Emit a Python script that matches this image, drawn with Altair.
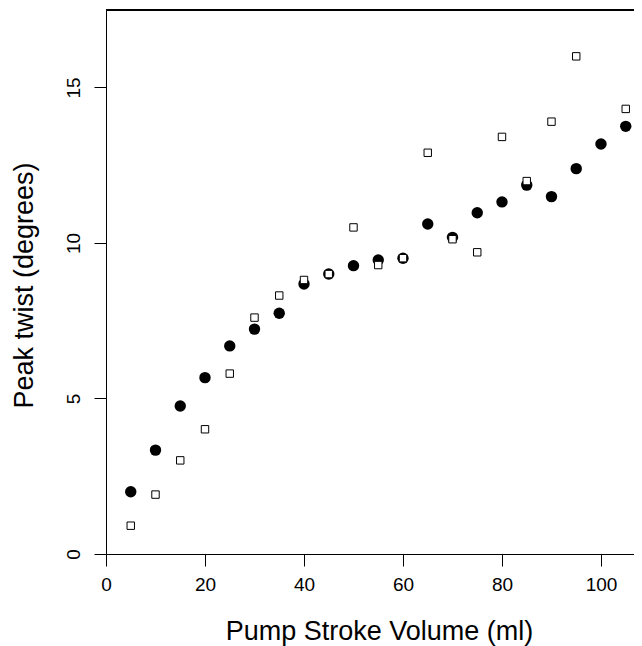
import altair as alt
import pandas as pd

volume = [5, 10, 15, 20, 25, 30, 35, 40, 45, 50, 55, 60, 65, 70, 75, 80, 85, 90, 95, 100, 105]
twist_filled = [2.00, 3.34, 4.76, 5.67, 6.69, 7.23, 7.74, 8.68, 9.00, 9.27, 9.45,
                9.51, 10.61, 10.18, 10.97, 11.32, 11.86, 11.49, 12.39, 13.18, 13.75]
twist_open = [0.91, 1.91, 3.01, 4.01, 5.80, 7.60, 8.31, 8.81, 9.00, 10.50, 9.29,
              9.51, 12.90, 10.12, 9.70, 13.41, 11.99, 13.90, 16.00, None, 14.31]
x_ticks = [0, 20, 40, 60, 80, 100]
y_ticks = [0, 5, 10, 15]

df_filled = pd.DataFrame({"volume": volume, "twist": twist_filled})
df_open = pd.DataFrame({"volume": volume, "twist": twist_open}).dropna()

W, H = 528, 544
FONT = "Liberation Sans"

xenc = alt.X("volume:Q",
             scale=alt.Scale(domain=[0, 106.67], nice=False, zero=False),
             axis=alt.Axis(values=x_ticks, title="Pump Stroke Volume (ml)",
                           tickSize=12, tickColor="black", domainColor="black",
                           labelPadding=24, labelBaseline="alphabetic", labelFlush=False,
                           labelFontSize=19, labelFont=FONT, labelColor="black",
                           titleFontSize=27, titleFont=FONT, titleColor="black",
                           titleFontWeight="normal", titleBaseline="alphabetic",
                           titleX=273, titleY=85, titleAlign="center",
                           grid=False))
yenc = alt.Y("twist:Q",
             scale=alt.Scale(domain=[0, 17.49], nice=False, zero=False),
             axis=alt.Axis(values=y_ticks, title="Peak twist (degrees)",
                           tickSize=12, tickColor="black", domainColor="black",
                           labelAngle=270, labelAlign="center", labelBaseline="alphabetic",
                           labelPadding=15, labelFlush=False,
                           labelFontSize=19, labelFont=FONT, labelColor="black",
                           titleFontSize=27, titleFont=FONT, titleColor="black",
                           titleFontWeight="normal", titleBaseline="alphabetic",
                           titleAngle=270, titleAlign="center",
                           titleX=-74, titleY=275,
                           grid=False))

filled = alt.Chart(df_filled).mark_point(
    shape="circle", filled=True, color="black", size=130, opacity=1
).encode(x=xenc, y=yenc)

opened = alt.Chart(df_open).mark_point(
    shape="square", filled=True, fill="white", stroke="black", strokeWidth=1,
    size=55, opacity=1
).encode(x="volume:Q", y="twist:Q")

top_line = alt.Chart(df_filled).mark_rule(color="black", strokeWidth=1).encode(
    x=alt.value(0), x2=alt.value(W), y=alt.value(0)
)

chart = alt.layer(filled, opened, top_line).properties(
    width=W, height=H,
    autosize=alt.AutoSizeParams(type="none"),
    padding={"left": 98, "top": 2, "right": 0, "bottom": 92},
).configure_view(stroke=None)

chart.save("out.html", embed_options={"renderer": "svg", "actions": False})
